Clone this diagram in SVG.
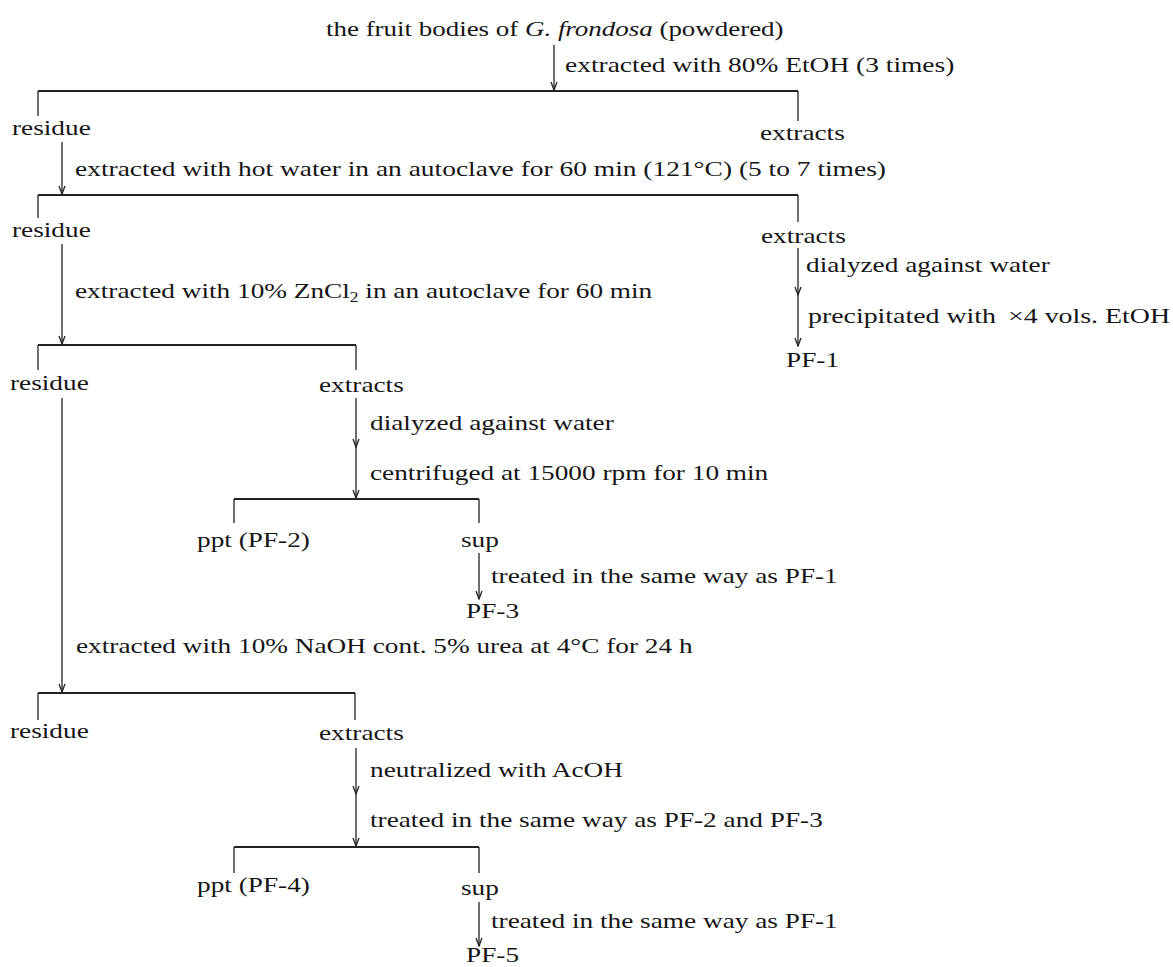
<svg xmlns="http://www.w3.org/2000/svg" width="1173" height="967" viewBox="0 0 1173 967">
<style>
  text { font-family: "Liberation Serif", "Times New Roman", serif; font-size: 22px; fill: #151515; }
  .it { font-style: italic; }
  .ln { stroke: #222; stroke-width: 1.3; fill: none; }
  .br { stroke: #222; stroke-width: 1.8; fill: none; }
  .ar { stroke: #222; stroke-width: 1.3; fill: none; marker-end: url(#ah); }
</style>
<defs>
  <marker id="ah" viewBox="0 0 10 10" markerWidth="10" markerHeight="10" refX="9" refY="5" orient="auto" markerUnits="userSpaceOnUse">
    <path d="M1,2 L9,5 L1,8" fill="none" stroke="#222" stroke-width="1.3"/>
  </marker>
</defs>
<rect width="1173" height="967" fill="#ffffff"/>

<g id="connectors">
  <line class="ar" x1="554" y1="45" x2="554" y2="90"/>
  <line class="br" x1="38" y1="91" x2="798" y2="91"/>
  <line class="ln" x1="38" y1="91" x2="38" y2="116"/>
  <line class="ln" x1="798" y1="91" x2="798" y2="121"/>
  <line class="ar" x1="62" y1="142" x2="62" y2="194"/>
  <line class="br" x1="38" y1="195" x2="798" y2="195"/>
  <line class="ln" x1="38" y1="195" x2="38" y2="218"/>
  <line class="ln" x1="798" y1="195" x2="798" y2="222"/>
  <line class="ar" x1="798" y1="248" x2="798" y2="295"/>
  <line class="ar" x1="798" y1="295" x2="798" y2="346"/>
  <line class="ar" x1="62" y1="244" x2="62" y2="344"/>
  <line class="br" x1="38" y1="345" x2="356" y2="345"/>
  <line class="ln" x1="38" y1="345" x2="38" y2="370"/>
  <line class="ln" x1="356" y1="345" x2="356" y2="370"/>
  <line class="ar" x1="356" y1="398" x2="356" y2="447"/>
  <line class="ar" x1="356" y1="447" x2="356" y2="498"/>
  <line class="br" x1="234" y1="499" x2="479" y2="499"/>
  <line class="ln" x1="234" y1="499" x2="234" y2="523"/>
  <line class="ln" x1="479" y1="499" x2="479" y2="523"/>
  <line class="ar" x1="479" y1="553" x2="479" y2="599"/>
  <line class="ar" x1="62" y1="398" x2="62" y2="692"/>
  <line class="br" x1="38" y1="693" x2="355" y2="693"/>
  <line class="ln" x1="38" y1="693" x2="38" y2="720"/>
  <line class="ln" x1="355" y1="693" x2="355" y2="720"/>
  <line class="ar" x1="356" y1="748" x2="356" y2="794"/>
  <line class="ar" x1="356" y1="794" x2="356" y2="846"/>
  <line class="br" x1="234" y1="847" x2="479" y2="847"/>
  <line class="ln" x1="234" y1="847" x2="234" y2="873"/>
  <line class="ln" x1="479" y1="847" x2="479" y2="873"/>
  <line class="ar" x1="479" y1="902" x2="479" y2="946"/>
</g>

<g id="n-start"><text transform="translate(326 36) scale(1.24 1)" textLength="369" lengthAdjust="spacingAndGlyphs">the fruit bodies of <tspan class="it">G. frondosa</tspan> (powdered)</text></g>
<g id="l-etoh"><text transform="translate(565 72) scale(1.24 1)" textLength="314" lengthAdjust="spacingAndGlyphs">extracted with 80% EtOH (3 times)</text></g>
<g id="n-residue1"><text transform="translate(12 135) scale(1.24 1)">residue</text></g>
<g id="n-extracts1"><text transform="translate(760 140) scale(1.24 1)">extracts</text></g>
<g id="l-hotwater"><text transform="translate(75 176) scale(1.24 1)" textLength="654" lengthAdjust="spacingAndGlyphs">extracted with hot water in an autoclave for 60 min (121°C) (5 to 7 times)</text></g>
<g id="n-residue2"><text transform="translate(12 237) scale(1.24 1)">residue</text></g>
<g id="n-extracts2"><text transform="translate(761 243) scale(1.24 1)">extracts</text></g>
<g id="l-dialyzed1"><text transform="translate(806 272) scale(1.24 1)">dialyzed against water</text></g>
<g id="l-precip"><text transform="translate(808 323) scale(1.24 1)" textLength="292" lengthAdjust="spacingAndGlyphs">precipitated with <tspan dx="4">×4 vols. EtOH</tspan></text></g>
<g id="n-pf1"><text transform="translate(786 367) scale(1.24 1)">PF-1</text></g>
<g id="l-zncl2"><text transform="translate(75 298) scale(1.24 1)">extracted with 10% ZnCl<tspan font-size="14" dy="4">2</tspan><tspan dy="-4"> in an autoclave for 60 min</tspan></text></g>
<g id="n-residue3"><text transform="translate(10 390) scale(1.24 1)">residue</text></g>
<g id="n-extracts3"><text transform="translate(319 392) scale(1.24 1)">extracts</text></g>
<g id="l-dialyzed2"><text transform="translate(370 430) scale(1.24 1)">dialyzed against water</text></g>
<g id="l-centrifuged"><text transform="translate(370 480) scale(1.24 1)">centrifuged at 15000 rpm for 10 min</text></g>
<g id="n-ppt2"><text transform="translate(197 547) scale(1.24 1)">ppt (PF-2)</text></g>
<g id="n-sup1"><text transform="translate(461 547) scale(1.24 1)">sup</text></g>
<g id="l-treated1"><text transform="translate(491 583) scale(1.24 1)">treated in the same way as PF-1</text></g>
<g id="n-pf3"><text transform="translate(466 618) scale(1.24 1)">PF-3</text></g>
<g id="l-naoh"><text transform="translate(76 653) scale(1.24 1)">extracted with 10% NaOH cont. 5% urea at 4°C for 24 h</text></g>
<g id="n-residue4"><text transform="translate(10 738) scale(1.24 1)">residue</text></g>
<g id="n-extracts4"><text transform="translate(319 740) scale(1.24 1)">extracts</text></g>
<g id="l-neutralized"><text transform="translate(370 777) scale(1.24 1)">neutralized with AcOH</text></g>
<g id="l-treated2"><text transform="translate(370 827) scale(1.24 1)">treated in the same way as PF-2 and PF-3</text></g>
<g id="n-ppt4"><text transform="translate(197 892) scale(1.24 1)">ppt (PF-4)</text></g>
<g id="n-sup2"><text transform="translate(461 895) scale(1.24 1)">sup</text></g>
<g id="l-treated3"><text transform="translate(491 928) scale(1.24 1)">treated in the same way as PF-1</text></g>
<g id="n-pf5"><text transform="translate(466 962) scale(1.24 1)">PF-5</text></g>
</svg>
